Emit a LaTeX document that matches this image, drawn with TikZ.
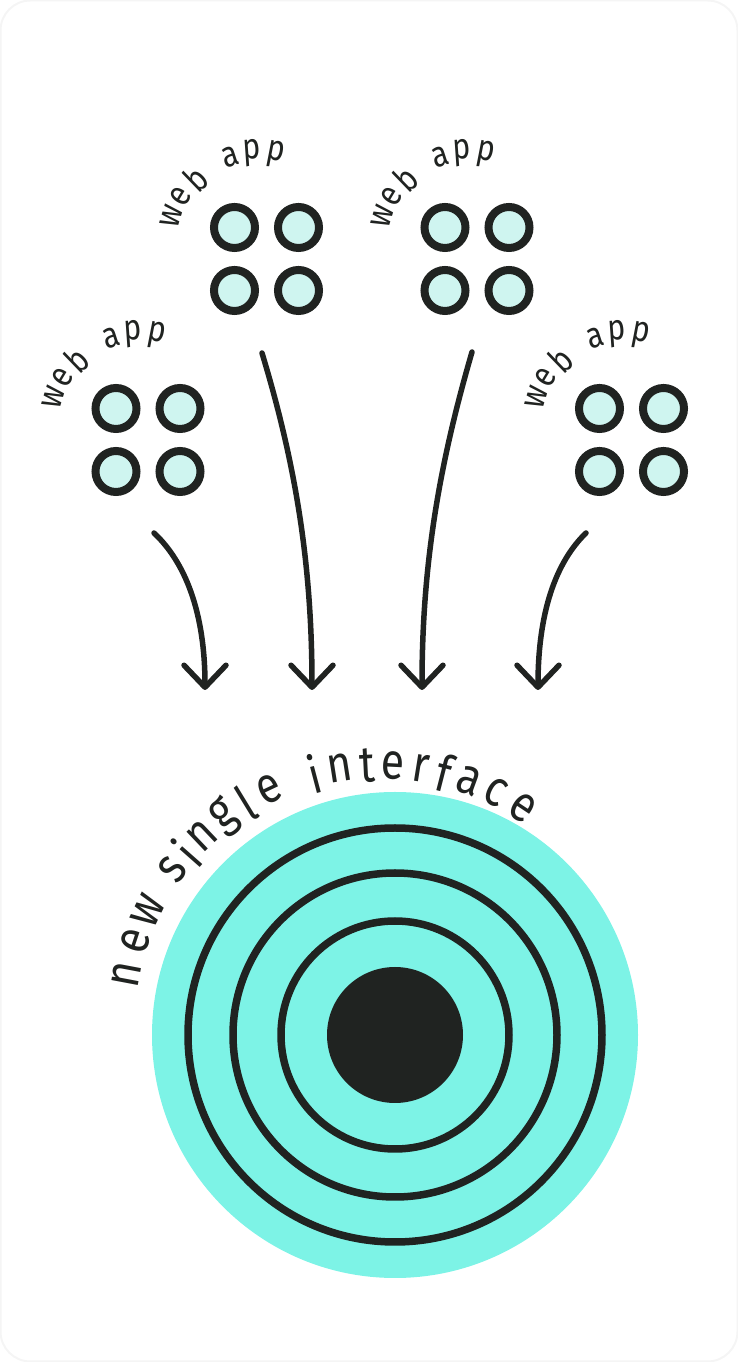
\documentclass[tikz,border=0pt]{standalone}
\usepackage{fontspec}
\newfontfamily\arcfont{Fira Sans}[FakeStretch=0.84]
\usetikzlibrary{arrows.meta,calc}
\definecolor{ink}{HTML}{202321}
\definecolor{appFill}{HTML}{CFF5F0}
\definecolor{hubFill}{HTML}{7DF3E6}

\begin{document}
\begin{tikzpicture}[x=0.5pt,y=0.5pt,
    app/.style={circle,draw=ink,line width=4pt,fill=appFill,
      minimum size=20.5pt,inner sep=0pt},
    tag/.style={text=ink,inner sep=0pt,font=\arcfont\fontsize{18}{20}\selectfont},
    big/.style={text=ink,inner sep=0pt,font=\arcfont\fontsize{25.5}{30}\selectfont},
    ring/.style={draw=ink,line width=3.75pt},
    arr/.style={draw=ink,line width=2.75pt,line cap=round,
      -{Straight Barb[length=11pt,width=21pt,round]}}]
    \useasboundingbox (0,0) rectangle (738,1362);
    \draw[black!4,line width=1pt,rounded corners=15pt] (0.5,0.5) rectangle (737.5,1361.5);
    % the four web apps
    \foreach \n/\x/\y in {1/148/922,2/266.5/1103,3/477/1103,4/631.5/922} {
      \coordinate (g\n) at (\x,\y);
      \node[app] (g\n-a) at ($(g\n)+(-32,31.5)$) {};
      \node[app] (g\n-b) at ($(g\n)+(32,31.5)$) {};
      \node[app] (g\n-c) at ($(g\n)+(-32,-31.5)$) {};
      \node[app] (g\n-d) at ($(g\n)+(32,-31.5)$) {};
      \coordinate (t\n) at ($(g\n)+(-8.5,16)$);
      \foreach \ch/\ang [count=\i] in {w/163,e/149,b/134,a/108,p/94,p/79}
        \node[tag,rotate=\ang-90] (t\n-\i) at ($(t\n)+(\ang:90)$) {\ch};
    }
    % the single interface
    \coordinate (hub) at (395,327);
    \fill[hubFill] (hub) circle[radius=243];
    \foreach \r in {207,162,114}
      \draw[ring] (hub) circle[radius=\r];
    \fill[ink] (hub) circle[radius=68];
    \coordinate (arc) at (380,339);
    \foreach \ch/\ang [count=\i] in {n/169.3,e/161.6,w/154.2,s/143.4,i/138.6,
        n/133.5,g/127.1,l/121.4,e/115.3,i/104.8,n/98.9,t/92.9,e/87.1,r/80.9,
        f/75.6,a/69.9,c/63.4,e/56.4}
      \node[big,rotate=\ang-90] (h\i) at ($(arc)+(\ang:258)$) {\ch};
    % arrows
    \coordinate (s1) at (154,829); \coordinate (e1) at (205,672);
    \coordinate (s2) at (262,1009); \coordinate (e2) at (312,672);
    \coordinate (s3) at (472,1010); \coordinate (e3) at (422,672);
    \coordinate (s4) at (586,829); \coordinate (e4) at (538,672);
    \draw[arr] (s1) .. controls +(31,-29) and +(0,78) .. (e1);
    \draw[arr] (s2) .. controls +(33,-109) and +(0,128) .. (e2);
    \draw[arr] (s3) .. controls +(-32,-110) and +(0,128) .. (e3);
    \draw[arr] (s4) .. controls +(-30,-29) and +(0,78) .. (e4);
  \end{tikzpicture}
\end{document}
